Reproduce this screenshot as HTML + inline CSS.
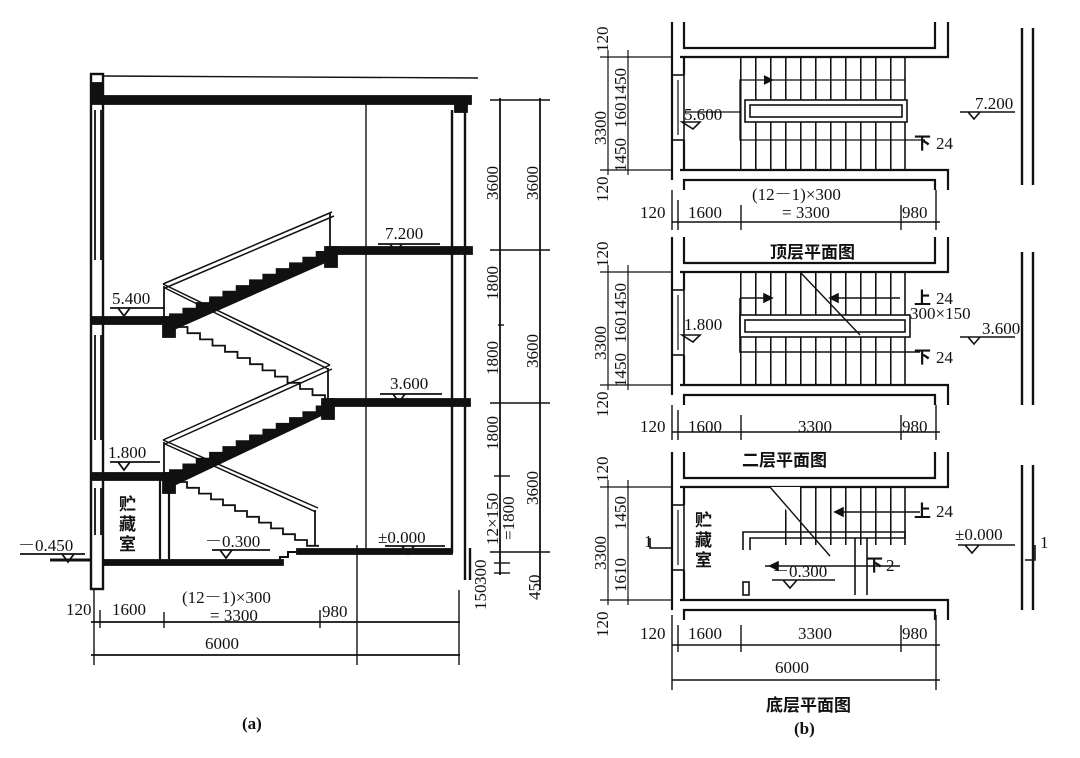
<!DOCTYPE html>
<html><head><meta charset="utf-8"><style>
html,body{margin:0;padding:0;background:#fff}
svg{display:block}
text{font-family:"Liberation Serif","Noto Serif CJK SC",serif;font-size:17px;fill:#111}
.c{font-family:"Liberation Sans","Noto Sans CJK SC",sans-serif;font-weight:bold}
</style></head><body>
<svg width="1080" height="758" viewBox="0 0 1080 758" xmlns="http://www.w3.org/2000/svg">
<defs>
<pattern id="tr" x="740" y="0" width="15" height="10" patternUnits="userSpaceOnUse">
<line x1="0.75" y1="0" x2="0.75" y2="10" stroke="#111" stroke-width="1.6"/></pattern>
</defs>
<g stroke="#111" fill="none" stroke-width="1.8">
<rect x="91" y="74" width="12" height="515" stroke-width="2.4"/>
<line x1="95" y1="110" x2="95" y2="260"/><line x1="101" y1="110" x2="101" y2="260"/>
<line x1="95" y1="335" x2="95" y2="440"/><line x1="101" y1="335" x2="101" y2="440"/>
<line x1="95" y1="488" x2="95" y2="535"/><line x1="101" y1="488" x2="101" y2="535"/>
<line x1="103" y1="76" x2="478" y2="78" stroke-width="1.4"/>
<rect x="91" y="96" width="380" height="8" fill="#111"/>
<rect x="91" y="83" width="12" height="14" fill="#111"/>
<rect x="455" y="100" width="12" height="12" fill="#111"/>
<line x1="452" y1="110" x2="452" y2="553" stroke-width="2.4"/>
<line x1="465" y1="110" x2="465" y2="580" stroke-width="2.4"/>
<line x1="470" y1="548" x2="470" y2="580" stroke-width="2.4"/>
<line x1="366" y1="104" x2="366" y2="552" stroke-width="1.4"/>
<line x1="357" y1="545" x2="357" y2="665" stroke-width="1.4"/>
<rect x="330" y="247" width="142" height="7" fill="#111"/>
<rect x="327" y="399" width="143" height="7" fill="#111"/>
<rect x="91" y="317" width="80" height="7" fill="#111"/>
<rect x="91" y="473" width="80" height="7" fill="#111"/>
<rect x="163" y="317" width="12" height="20" fill="#111"/>
<rect x="163" y="473" width="12" height="20" fill="#111"/>
<rect x="325" y="247" width="12" height="20" fill="#111"/>
<rect x="322" y="399" width="12" height="20" fill="#111"/>
<rect x="297" y="549" width="155" height="5" fill="#111"/>
<rect x="103" y="560" width="180" height="5" fill="#111"/>
<path d="M280 562 v-5 h8 v-5 h12" stroke-width="2"/>
<line x1="50" y1="560" x2="90" y2="560" stroke-width="3"/>
<line x1="160" y1="480" x2="160" y2="560" stroke-width="2.2"/><line x1="169" y1="480" x2="169" y2="560" stroke-width="2.2"/>
<path d="M170 320 v-5.67h13.33v-5.67h13.33v-5.67h13.33v-5.67h13.33v-5.67h13.33v-5.67h13.33v-5.67h13.33v-5.67h13.33v-5.67h13.33v-5.67h13.33v-5.67h13.33v-5.67h13.33 L330 260 L172 330 Z" fill="#111"/>
<path d="M170 476 v-5.8h13.33v-5.8h13.33v-5.8h13.33v-5.8h13.33v-5.8h13.33v-5.8h13.33v-5.8h13.33v-5.8h13.33v-5.8h13.33v-5.8h13.33v-5.8h13.33v-5.8h13.33 L328 412 L172 486 Z" fill="#111"/>
<path d="M175 327 h12.5v6.2h12.5v6.2h12.5v6.2h12.5v6.2h12.5v6.2h12.5v6.2h12.5v6.2h12.5v6.2h12.5v6.2h12.5v6.2h12.5v6.2h12.5v6.2"/>
<path d="M175 482 h12v5.8h12v5.8h12v5.8h12v5.8h12v5.8h12v5.8h12v5.8h12v5.8h12v5.8h12v5.8h12v5.8h12"/>
<path d="M163 284 L332 212 M165 288 L334 216" stroke-width="1.5"/>
<path d="M163 284 L330 365 M165 288 L328 369" stroke-width="1.5"/>
<path d="M163 440 L330 365 M165 444 L332 369" stroke-width="1.5"/>
<path d="M163 440 L318 508 M165 444 L316 512" stroke-width="1.5"/>
<line x1="330" y1="213" x2="330" y2="250"/><line x1="328" y1="368" x2="328" y2="400"/>
<line x1="164" y1="286" x2="164" y2="318"/><line x1="164" y1="442" x2="164" y2="474"/>
<line x1="315" y1="510" x2="315" y2="546"/>
<path d="M378 244 H440 M390 244 l6 8 l6 -8"/>
<path d="M110 308 H165 M118 308 l6 8 l6 -8"/>
<path d="M380 394 H442 M393 394 l6 8 l6 -8"/>
<path d="M110 462 H160 M118 462 l6 8 l6 -8"/>
<path d="M20 554 H85 M62 554 l6 8 l6 -8"/>
<path d="M212 550 H270 M220 550 l6 8 l6 -8"/>
<path d="M385 546 H445 M402 546 l6 8 l6 -8"/>
<line x1="500" y1="98" x2="500" y2="575"/><line x1="540" y1="98" x2="540" y2="590"/>
<g stroke-width="1.4">
<line x1="490" y1="100" x2="550" y2="100"/><line x1="490" y1="250" x2="550" y2="250"/>
<line x1="490" y1="403" x2="550" y2="403"/><line x1="494" y1="476" x2="510" y2="476"/>
<line x1="490" y1="552" x2="550" y2="552"/><line x1="494" y1="563" x2="510" y2="563"/>
<line x1="494" y1="573" x2="510" y2="573"/><line x1="498" y1="325" x2="504" y2="325"/>
</g>
<line x1="91" y1="622" x2="460" y2="622"/>
<line x1="91" y1="655" x2="460" y2="655"/>
<g stroke-width="1.4">
<line x1="94" y1="590" x2="94" y2="665"/><line x1="100" y1="610" x2="100" y2="628"/>
<line x1="164" y1="612" x2="164" y2="628"/><line x1="320" y1="610" x2="320" y2="628"/>
<line x1="459" y1="590" x2="459" y2="665"/>
</g>
</g>
<g>
<text x="385" y="239">7.200</text>
<text x="112" y="304">5.400</text>
<text x="390" y="389">3.600</text>
<text x="108" y="458">1.800</text>
<text x="18" y="551">－0.450</text>
<text x="205" y="547">－0.300</text>
<text x="378" y="543">±0.000</text>
<text class="c" x="119" y="510" font-size="17">贮</text>
<text class="c" x="119" y="530" font-size="17">藏</text>
<text class="c" x="119" y="550" font-size="17">室</text>
<text x="66" y="615">120</text>
<text x="112" y="615">1600</text>
<text x="182" y="603">(12－1)×300</text>
<text x="210" y="621">= 3300</text>
<text x="322" y="617">980</text>
<text x="205" y="649">6000</text>
<text x="242" y="729" font-weight="bold" font-size="15">(a)</text>
<g font-size="16">
<text transform="translate(498,200) rotate(-90)">3600</text>
<text transform="translate(538,200) rotate(-90)">3600</text>
<text transform="translate(498,300) rotate(-90)">1800</text>
<text transform="translate(538,368) rotate(-90)">3600</text>
<text transform="translate(498,375) rotate(-90)">1800</text>
<text transform="translate(498,450) rotate(-90)">1800</text>
<text transform="translate(538,505) rotate(-90)">3600</text>
<text transform="translate(498,545) rotate(-90)">12×150</text>
<text transform="translate(514,540) rotate(-90)">=1800</text>
<text transform="translate(486,585) rotate(-90)">300</text>
<text transform="translate(486,610) rotate(-90)">150</text>
<text transform="translate(540,600) rotate(-90)">450</text>
</g>
</g>

<g id="plan" stroke="#111" fill="none" stroke-width="2.2">
<path d="M684 22 V48 H935 V22"/>
<path d="M680 57 H948 V22"/>
<line x1="672" y1="22" x2="672" y2="180"/>
<line x1="684" y1="57" x2="684" y2="75"/>
<rect x="672" y="75" width="12" height="65" stroke-width="1.6"/>
<line x1="678" y1="80" x2="678" y2="135" stroke-width="1.2"/>
<line x1="684" y1="140" x2="684" y2="170"/>
<path d="M680 170 H948 V190"/>
<path d="M684 190 V180 H935 V190"/>
<line x1="600" y1="57" x2="672" y2="57" stroke-width="1.2"/>
<line x1="600" y1="170" x2="672" y2="170" stroke-width="1.2"/>
<line x1="608" y1="50" x2="608" y2="175" stroke-width="1.2"/>
<line x1="628" y1="50" x2="628" y2="175" stroke-width="1.2"/>
</g>
<use href="#plan" y="215"/>
<use href="#plan" y="430"/>
<g stroke="#111" fill="none" stroke-width="1.6">
<rect x="740" y="57" width="165" height="113" fill="url(#tr)" stroke="none"/>
<line x1="905" y1="57" x2="905" y2="170"/>
<rect x="745" y="100" width="162" height="22" fill="#fff"/>
<rect x="750" y="105" width="152" height="12"/>
<path d="M905 80 H740 V140 H925" stroke-width="1.3"/>
<path d="M764 76 l8 4 l-8 4" fill="#111"/>
<path d="M685 112 H740" stroke-width="1.2"/>
<path d="M682 122 h18 l-7 7 z"/>
<rect x="740" y="272" width="165" height="113" fill="url(#tr)" stroke="none"/>
<line x1="905" y1="272" x2="905" y2="385"/>
<rect x="740" y="315" width="170" height="22" fill="#fff"/>
<rect x="745" y="320" width="160" height="12"/>
<path d="M800 272 L860 335" stroke-width="1.4"/>
<path d="M740 298 H770 M830 298 H900 M740 298 V352 H920"/>
<path d="M772 298 l-8 -4 v8z M830 298 l8 -4 v8z" fill="#111"/>
<path d="M682 335 h18 l-7 7 z"/>
<rect x="775" y="487" width="130" height="58" fill="url(#tr)" stroke="none"/>
<path d="M770 487 L800 487 L800 530 Z" fill="#fff" stroke="none"/>
<path d="M770 487 L830 556" stroke-width="1.4"/>
<line x1="905" y1="487" x2="905" y2="545"/>
<path d="M743 550 V532 H905 V538 H750 V550"/>
<line x1="855" y1="538" x2="855" y2="595"/><line x1="867" y1="538" x2="867" y2="595"/>
<path d="M843 512 H920 M843 566 H900 M765 566 H843"/>
<path d="M835 512 l8 -4 v8z M770 566 l8 -4 v8z" fill="#111"/>
<rect x="743" y="582" width="6" height="13"/>
<path d="M772 580 H835 M783 580 l7 8 l7 -8"/>
<path d="M650 538 V548 H672"/>
<path d="M1035 545 V560 H1025"/>
<line x1="1022" y1="28" x2="1022" y2="185" stroke-width="2.4"/><line x1="1033" y1="28" x2="1033" y2="185" stroke-width="2.4"/>
<line x1="1022" y1="252" x2="1022" y2="405" stroke-width="2.4"/><line x1="1033" y1="252" x2="1033" y2="405" stroke-width="2.4"/>
<line x1="1022" y1="465" x2="1022" y2="610" stroke-width="2.4"/><line x1="1033" y1="465" x2="1033" y2="610" stroke-width="2.4"/>
<path d="M960 112 H1015 M968 112 l6 7 l6 -7"/>
<path d="M960 337 H1015 M968 337 l6 7 l6 -7"/>
<path d="M958 545 H1015 M965 545 l7 8 l7 -8"/>
<g stroke-width="1.4">
<line x1="672" y1="222" x2="940" y2="222"/>
<line x1="672" y1="432" x2="940" y2="432"/>
<line x1="672" y1="645" x2="940" y2="645"/>
<line x1="672" y1="680" x2="940" y2="680"/>
<line x1="672" y1="190" x2="672" y2="230"/><line x1="678" y1="200" x2="678" y2="230"/><line x1="741" y1="205" x2="741" y2="230"/><line x1="901" y1="205" x2="901" y2="230"/><line x1="936" y1="190" x2="936" y2="230"/>
<line x1="672" y1="405" x2="672" y2="440"/><line x1="678" y1="410" x2="678" y2="440"/><line x1="741" y1="415" x2="741" y2="440"/><line x1="901" y1="415" x2="901" y2="440"/><line x1="936" y1="405" x2="936" y2="440"/>
<line x1="672" y1="615" x2="672" y2="690"/><line x1="678" y1="625" x2="678" y2="652"/><line x1="741" y1="625" x2="741" y2="652"/><line x1="901" y1="625" x2="901" y2="652"/><line x1="936" y1="615" x2="936" y2="690"/>
</g>
</g>
<g>
<text x="684" y="120">5.600</text>
<text x="975" y="109">7.200</text>
<text x="914" y="149" class="c" font-size="16">下</text><text x="936" y="149">24</text>
<text x="752" y="200">(12－1)×300</text>
<text x="782" y="218">= 3300</text>
<text x="640" y="218">120</text><text x="688" y="218">1600</text><text x="902" y="218">980</text>
<text class="c" x="770" y="258" font-size="18">顶层平面图</text>
<text x="684" y="330">1.800</text>
<text x="914" y="304" class="c" font-size="16">上</text><text x="936" y="304">24</text>
<text x="910" y="319">300×150</text>
<text x="982" y="334">3.600</text>
<text x="914" y="363" class="c" font-size="16">下</text><text x="936" y="363">24</text>
<text x="640" y="432">120</text><text x="688" y="432">1600</text><text x="798" y="432">3300</text><text x="902" y="432">980</text>
<text class="c" x="742" y="466" font-size="18">二层平面图</text>
<text class="c" x="695" y="526" font-size="17">贮</text><text class="c" x="695" y="546" font-size="17">藏</text><text class="c" x="695" y="566" font-size="17">室</text>
<text x="914" y="517" class="c" font-size="16">上</text><text x="936" y="517">24</text>
<text x="955" y="540">±0.000</text>
<text x="866" y="571" class="c" font-size="16">下</text><text x="886" y="571">2</text>
<text x="772" y="577">－0.300</text>
<text x="644" y="547" font-size="14">1</text>
<text x="1040" y="548" font-size="14">1</text>
<text x="640" y="639">120</text><text x="688" y="639">1600</text><text x="798" y="639">3300</text><text x="902" y="639">980</text>
<text x="775" y="673">6000</text>
<text class="c" x="766" y="711" font-size="18">底层平面图</text>
<text x="794" y="734" font-weight="bold" font-size="15">(b)</text>
<g font-size="16">
<text transform="translate(608,52) rotate(-90)">120</text>
<text transform="translate(606,145) rotate(-90)">3300</text>
<text transform="translate(626,102) rotate(-90)">1450</text>
<text transform="translate(626,128) rotate(-90)">160</text>
<text transform="translate(626,172) rotate(-90)">1450</text>
<text transform="translate(608,202) rotate(-90)">120</text>
<text transform="translate(608,267) rotate(-90)">120</text>
<text transform="translate(606,360) rotate(-90)">3300</text>
<text transform="translate(626,317) rotate(-90)">1450</text>
<text transform="translate(626,343) rotate(-90)">160</text>
<text transform="translate(626,387) rotate(-90)">1450</text>
<text transform="translate(608,417) rotate(-90)">120</text>
<text transform="translate(608,482) rotate(-90)">120</text>
<text transform="translate(606,570) rotate(-90)">3300</text>
<text transform="translate(626,530) rotate(-90)">1450</text>
<text transform="translate(626,592) rotate(-90)">1610</text>
<text transform="translate(608,637) rotate(-90)">120</text>
</g>
</g>
</svg>
</body></html>
